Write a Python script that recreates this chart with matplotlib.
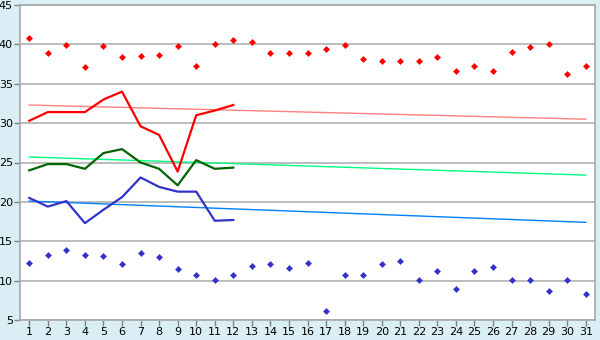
import matplotlib
matplotlib.use("Agg")
import matplotlib.pyplot as plt
import numpy as np

days = list(range(1, 32))

# record highs (red points) and record lows (blue points)
record_high = [40.8, 38.9, 39.9, 37.1, 39.8, 38.4, 38.5, 38.6, 39.8, 37.2,
               40.0, 40.5, 40.3, 38.9, 38.9, 38.9, 39.4, 39.9, 38.1, 37.9,
               37.9, 37.9, 38.4, 36.6, 37.2, 36.6, 39.0, 39.7, 40.0, 36.2, 37.2]
record_low = [12.3, 13.3, 13.85, 13.3, 13.1, 12.1, 13.5, 13.0, 11.45, 10.7,
              10.05, 10.7, 11.8, 12.1, 11.6, 12.2, 6.1, 10.7, 10.7, 12.1,
              12.45, 10.05, 11.2, 8.9, 11.2, 11.7, 10.05, 10.05, 8.65, 10.05, 8.25]

# current month observations (days 1-12)
obs_days = list(range(1, 13))
obs_max = [30.3, 31.4, 31.4, 31.4, 33.0, 34.0, 29.6, 28.5, 23.85, 31.0, 31.6, 32.3]
obs_mean = [24.0, 24.8, 24.8, 24.2, 26.2, 26.7, 25.0, 24.2, 22.1, 25.3, 24.2, 24.35]
obs_min = [20.5, 19.4, 20.1, 17.3, 19.0, 20.6, 23.1, 21.9, 21.3, 21.3, 17.6, 17.7]

# normal (trend) lines: value at day 1 and day 31
trend_days = [1, 31]
trend_max = [32.3, 30.5]
trend_mean = [25.7, 23.4]
trend_min = [20.1, 17.4]

yticks = [5, 10, 15, 20, 25, 30, 35, 40, 45]

bg = "#d9eef5"
fig = plt.figure(figsize=(6, 3.4), dpi=100, facecolor=bg)
ax = fig.add_axes([20/600, 20/340, 575/600, 315/340])
ax.set_facecolor("white")

ax.set_xlim(0.5, 31.5)
ax.set_ylim(5, 45)
ax.set_yticks(yticks)
ax.set_xticks(days)
ax.grid(axis="y", color="#b0b0b0", linewidth=1.2)
ax.set_axisbelow(True)

for s in ax.spines.values():
    s.set_color("#a8a8a8")
    s.set_linewidth(1.2)

ax.tick_params(axis="both", colors="#808080", length=4, width=1,
               labelcolor="black", labelsize=8, pad=1)

ax.plot(trend_days, trend_max, color="#ff8080", lw=1.0)
ax.plot(trend_days, trend_mean, color="#00ff80", lw=1.0)
ax.plot(trend_days, trend_min, color="#0080ff", lw=1.0)

ax.plot(obs_days, obs_max, color="#ff0000", lw=1.6)
ax.plot(obs_days, obs_mean, color="#006400", lw=1.6)
ax.plot(obs_days, obs_min, color="#3333cc", lw=1.6)

ax.plot(days, record_high, linestyle="none", marker="D", ms=3.5,
        color="#ff0000", markeredgewidth=0)
ax.plot(days, record_low, linestyle="none", marker="D", ms=3.5,
        color="#3333cc", markeredgewidth=0)

fig.savefig("out.png", dpi=100, facecolor=bg)
